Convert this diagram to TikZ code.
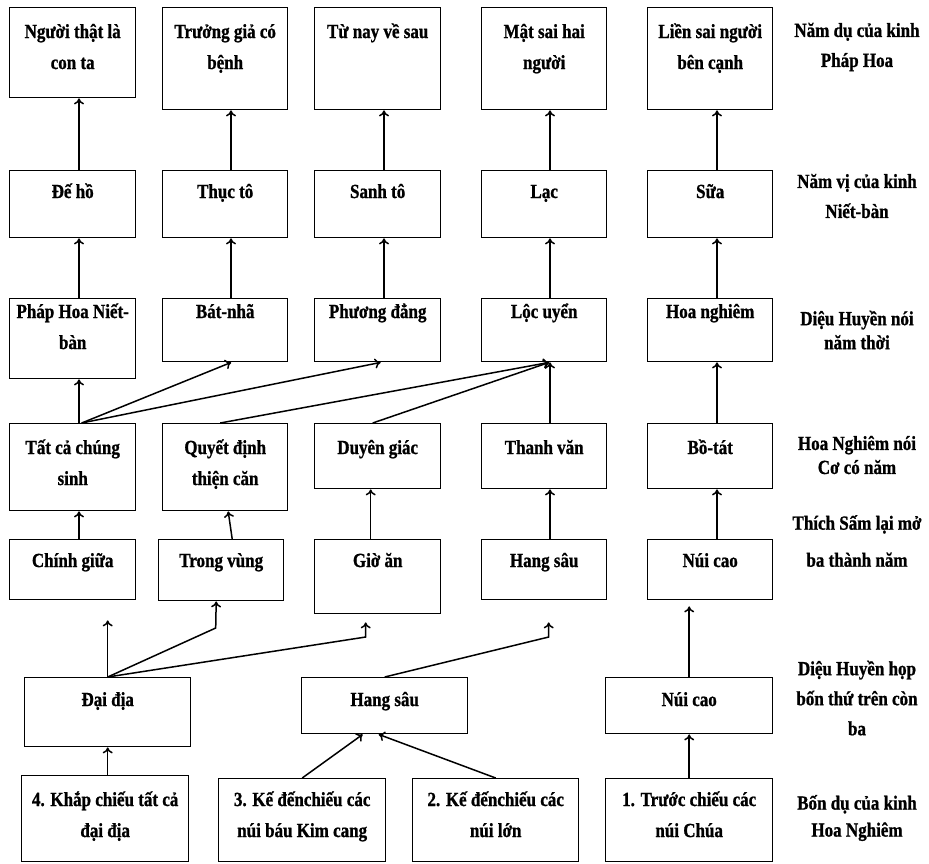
\documentclass[tikz,border=0pt]{standalone}
\usepackage{fontspec}
\setmainfont[FakeStretch=0.85,FakeBold=1]{Liberation Serif}
\usetikzlibrary{arrows.meta}

\begin{document}
\begin{tikzpicture}[x=1pt,y=1pt,
  box/.style={draw, line width=1.4pt, anchor=north west, inner sep=0pt},
  intext/.style={anchor=base, align=center, inner sep=0pt, yshift=-#1, font=\bfseries\fontsize{20}{31}\selectfont},
  intext/.default=28pt,
  side/.style={align=center, inner sep=0pt, font=\bfseries\fontsize{20}{30}\selectfont},
  link/.style={->, line width=1.5pt},
  >={To[length=6pt,width=10pt]}]
\useasboundingbox (0,0) rectangle (929,-863);

% column lines of the vertical arrows
\coordinate (k1) at (79,0);
\coordinate (k2) at (231,0);
\coordinate (k3) at (384,0);
\coordinate (k4) at (550,0);
\coordinate (k5) at (717,0);

% row 1 (the value of intext is the depth of the last baseline)
\node[box, minimum width=126, minimum height=90, label={[intext=62pt]north:{Người thật là\\con ta}}] (nguoithat) at (9,-7) {};
\node[box, minimum width=125, minimum height=102, label={[intext=62pt]north:{Trưởng giả có\\bệnh}}] (truonggia) at (162,-7) {};
\node[box, minimum width=126, minimum height=102, label={[intext=31pt]north:{Từ nay về sau}}] (tunay) at (314,-7) {};
\node[box, minimum width=125, minimum height=102, label={[intext=62pt]north:{Mật sai hai\\người}}] (matsai) at (481,-7) {};
\node[box, minimum width=125, minimum height=102, label={[intext=62pt]north:{Liền sai người\\bên cạnh}}] (liensai) at (647,-7) {};

% row 2
\node[box, minimum width=126, minimum height=67, label={[intext]north:Đế hồ}] (deho) at (9,-170) {};
\node[box, minimum width=125, minimum height=67, label={[intext]north:Thục tô}] (thucto) at (162,-170) {};
\node[box, minimum width=126, minimum height=67, label={[intext]north:Sanh tô}] (sanhto) at (314,-170) {};
\node[box, minimum width=125, minimum height=67, label={[intext]north:Lạc}] (lac) at (481,-170) {};
\node[box, minimum width=125, minimum height=67, label={[intext]north:Sữa}] (sua) at (647,-170) {};

% row 3
\node[box, minimum width=126, minimum height=80, label={[intext=51pt]north:{Pháp Hoa Niết-\\bàn}}] (phaphoa) at (9,-298) {};
\node[box, minimum width=125, minimum height=63, label={[intext=20pt]north:Bát-nhã}] (batnha) at (162,-298) {};
\node[box, minimum width=126, minimum height=63, label={[intext=20pt]north:Phương đẳng}] (phuongdang) at (314,-298) {};
\node[box, minimum width=125, minimum height=63, label={[intext=20pt]north:Lộc uyển}] (locuyen) at (481,-298) {};
\node[box, minimum width=125, minimum height=63, label={[intext=20pt]north:Hoa nghiêm}] (hoanghiem) at (647,-298) {};

% row 4
\node[box, minimum width=126, minimum height=87, label={[intext=62pt]north:{Tất cả chúng\\sinh}}] (tatca) at (9,-423) {};
\node[box, minimum width=125, minimum height=87, label={[intext=62pt]north:{Quyết định\\thiện căn}}] (quyetdinh) at (162,-423) {};
\node[box, minimum width=126, minimum height=65, label={[intext=31pt]north:Duyên giác}] (duyengiac) at (314,-423) {};
\node[box, minimum width=125, minimum height=65, label={[intext=31pt]north:Thanh văn}] (thanhvan) at (481,-423) {};
\node[box, minimum width=125, minimum height=65, label={[intext=31pt]north:Bồ-tát}] (botat) at (647,-423) {};

% row 5
\node[box, minimum width=126, minimum height=60, label={[intext]north:Chính giữa}] (chinhgiua) at (9,-539) {};
\node[box, minimum width=125, minimum height=61, label={[intext]north:Trong vùng}] (trongvung) at (158,-539) {};
\node[box, minimum width=126, minimum height=74, label={[intext]north:Giờ ăn}] (gioan) at (314,-539) {};
\node[box, minimum width=125, minimum height=60, label={[intext]north:Hang sâu}] (hangsau) at (481,-539) {};
\node[box, minimum width=125, minimum height=60, label={[intext]north:Núi cao}] (nuicao) at (647,-539) {};

% row 6
\node[box, minimum width=166, minimum height=69, label={[intext=29pt]north:Đại địa}] (daidia) at (24,-677) {};
\node[box, minimum width=166, minimum height=56, label={[intext=29pt]north:Hang sâu}] (hangsaub) at (301,-677) {};
\node[box, minimum width=167, minimum height=56, label={[intext=29pt]north:Núi cao}] (nuicaob) at (605,-677) {};

% row 7
\node[box, minimum width=167, minimum height=86, label={[intext=62pt]north:{4. Khắp chiếu tất cả\\đại địa}}] (khapchieu) at (21,-775) {};
\node[box, minimum width=167, minimum height=83, label={[intext=59pt]north:{3. Kế đếnchiếu các\\núi báu Kim cang}}] (kedennui) at (218,-778) {};
\node[box, minimum width=166, minimum height=83, label={[intext=59pt]north:{2. Kế đếnchiếu các\\núi lớn}}] (kedenlon) at (412,-778) {};
\node[box, minimum width=167, minimum height=83, label={[intext=59pt]north:{1. Trước chiếu các\\núi Chúa}}] (truocchieu) at (605,-778) {};

% row titles
\node[side] (duphaphoa) at (857,-47) {Năm dụ của kinh\\Pháp Hoa};
\node[side] (vinietban) at (857,-196) {Năm vị của kinh\\Niết-bàn};
\node[side] (namthoi) at (857,-330) {Diệu Huyền nói\\[-6pt]năm thời};
\node[side] (coconam) at (857,-455) {Hoa Nghiêm nói\\[-6pt]Cơ có năm};
\node[side] (bathanhnam) at (857,-541) {Thích Sấm lại mở\\[7pt]ba thành năm};
\node[side] (conba) at (857,-698) {Diệu Huyền họp\\bốn thứ trên còn\\ba};
\node[side] (duhoanghiem) at (857,-818) {Bốn dụ của kinh\\[-3pt]Hoa Nghiêm};

% row 2 -> row 1
\draw[link] (deho.north -| k1) -- (nguoithat.south -| k1);
\draw[link] (thucto.north -| k2) -- (truonggia.south -| k2);
\draw[link] (sanhto.north -| k3) -- (tunay.south -| k3);
\draw[link] (lac.north -| k4) -- (matsai.south -| k4);
\draw[link] (sua.north -| k5) -- (liensai.south -| k5);

% row 3 -> row 2
\draw[link] (phaphoa.north -| k1) -- (deho.south -| k1);
\draw[link] (batnha.north -| k2) -- (thucto.south -| k2);
\draw[link] (phuongdang.north -| k3) -- (sanhto.south -| k3);
\draw[link] (locuyen.north -| k4) -- (lac.south -| k4);
\draw[link] (hoanghiem.north -| k5) -- (sua.south -| k5);

% row 4 -> row 3
\draw[link] (tatca.north -| k1) -- (phaphoa.south -| k1);
\draw[link] ([xshift=9]tatca.north) -- ([xshift=6]batnha.south);
\draw[link] ([xshift=9]tatca.north) -- ([xshift=3]phuongdang.south);
\draw[link] ([xshift=-5]quyetdinh.north) -- ([xshift=5]locuyen.south);
\draw[link] ([xshift=-5]duyengiac.north) -- ([xshift=5]locuyen.south);
\draw[link] (thanhvan.north -| k4) -- (locuyen.south -| k4);
\draw[link] (botat.north -| k5) -- (hoanghiem.south -| k5);

% row 5 -> row 4
\draw[link] (chinhgiua.north -| k1) -- (tatca.south -| k1);
\draw[link] ([xshift=11]trongvung.north) -- ([xshift=3]quyetdinh.south);
\draw[link] ([xshift=-7]gioan.north) -- ([xshift=-7]duyengiac.south);
\draw[link] (hangsau.north -| k4) -- (thanhvan.south -| k4);
\draw[link] (nuicao.north -| k5) -- (botat.south -| k5);

% row 6 -> row 5
\draw[link] (daidia.north) -- ([yshift=-20]daidia.north |- chinhgiua.south);
\draw[link] (daidia.north) -- ++(108,49) -- ([xshift=-5]trongvung.south);
\draw[link] (daidia.north) -- ++(258,40) -- ([xshift=-12,yshift=-8]gioan.south);
\draw[link] (hangsaub.north) -- ++(164,40) -- ([xshift=4.5,yshift=-22]hangsau.south);
\draw[link] (nuicaob.north) -- ([yshift=-6]nuicaob.north |- nuicao.south);

% row 7 -> row 6
\draw[link] (daidia.south |- khapchieu.north) -- (daidia.south);
\draw[link] (kedennui.north) -- ([xshift=-22]hangsaub.south);
\draw[link] (kedenlon.north) -- ([xshift=-6]hangsaub.south);
\draw[link] (truocchieu.north) -- (nuicaob.south);
\end{tikzpicture}
\end{document}
